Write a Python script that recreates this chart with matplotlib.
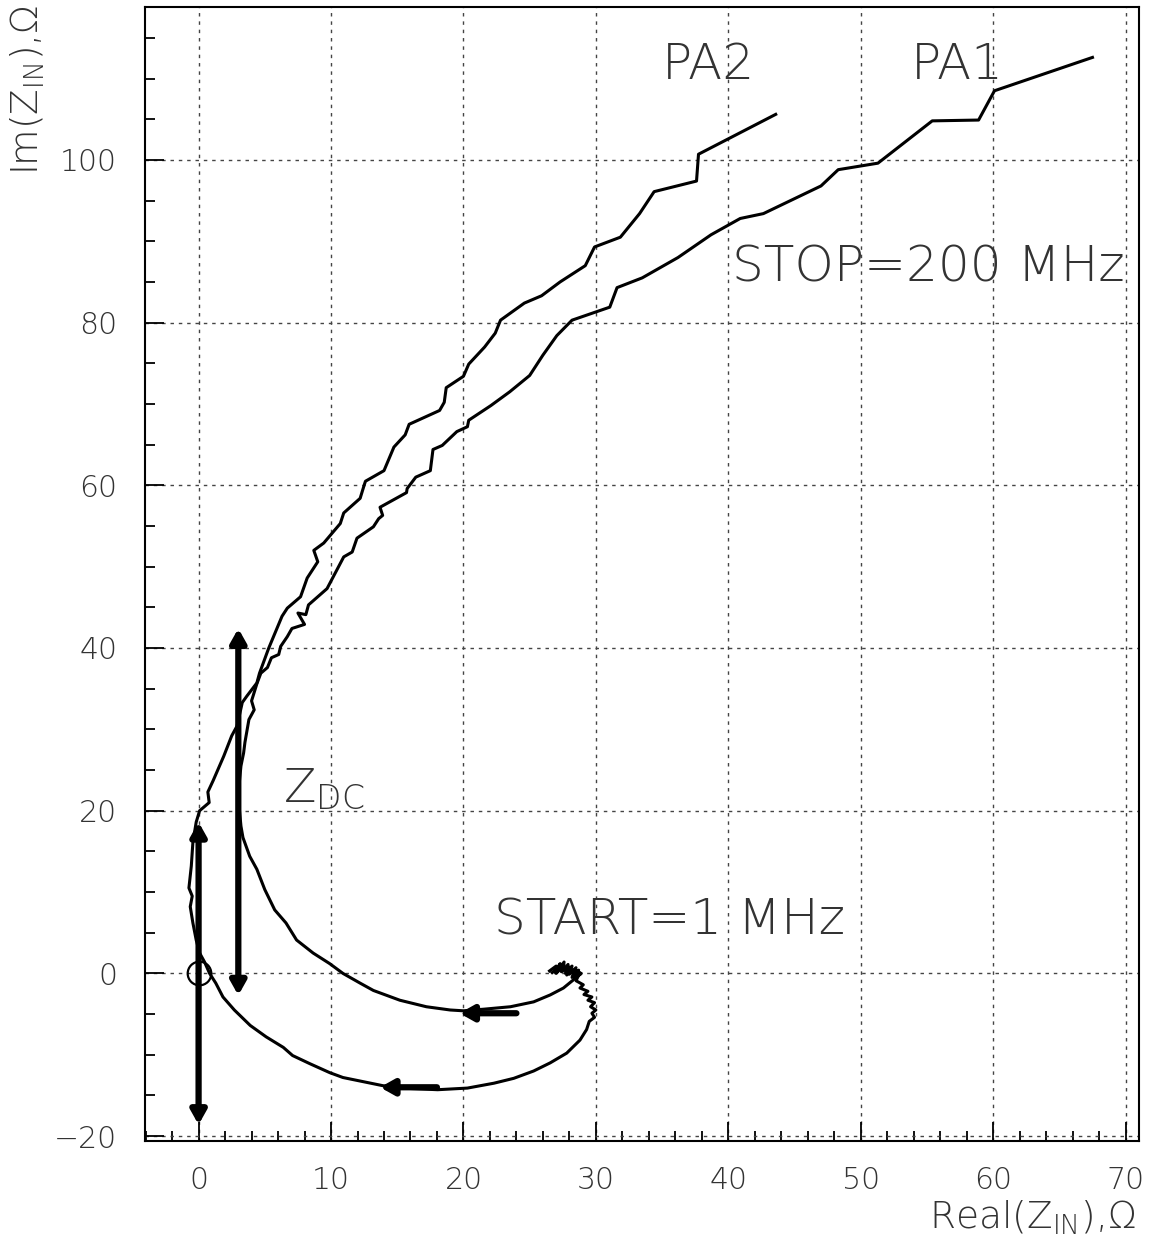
import numpy as np
import matplotlib.pyplot as plt
from matplotlib.ticker import MultipleLocator

# input impedance of the two preamps, swept 1 MHz -> 200 MHz

# PA1 : inner loop
pa1_re = [26.5, 27.0, 26.9, 27.3, 27.2, 27.6, 27.5, 27.9, 27.7, 28.2, 28.0, 28.5,
          28.3, 28.7, 28.4, 28.9, 28.3,
          27.55, 26.55, 25.3, 23.55, 21.55, 20.0, 19.0, 17.2, 15.2, 13.2, 12.2,
          10.9, 9.9, 8.65, 7.4, 6.6, 5.75, 5.0, 4.4, 3.86, 3.35, 3.2, 3.1, 3.0,
          3.1, 3.2, 3.4, 3.5, 3.8, 4.2, 4.0, 4.4, 4.7, 5.2, 5.5, 6.05, 6.2, 6.7,
          7.05, 8.0, 7.5, 8.1, 8.3, 9.7, 10.96, 11.6, 11.96, 13.2, 13.6, 13.9,
          13.7, 15.7, 15.75, 16.4, 17.5, 17.7, 18.4, 19.5, 20.3, 20.4, 22.07,
          23.5, 25.0, 26.0, 27.05, 28.2, 31.05, 31.6, 33.5, 36.2, 38.7, 40.9,
          42.65, 47.0, 48.3, 51.3, 55.4, 58.9, 60.1, 67.5]
pa1_im = [0.3, 0.9, 0.2, 1.2, 0.4, 1.4, 0.3, 1.1, 0.0, 0.9, -0.1, 0.7,
          -0.3, 0.4, -0.5, 0.0, -0.8,
          -1.8, -2.65, -3.5, -4.1, -4.4, -4.6, -4.5, -4.1, -3.3, -2.1, -1.2,
          0.0, 1.2, 2.5, 4.1, 6.2, 7.8, 10.3, 12.8, 14.4, 16.7, 18.1, 19.8, 21.9,
          23.9, 25.5, 27.1, 28.4, 31.2, 32.4, 33.5, 35.6, 36.9, 37.6, 38.8, 39.2, 40.2, 41.4,
          42.4, 42.9, 44.3, 44.1, 45.3, 47.3, 51.2, 51.8, 53.5, 54.9, 55.9, 56.3,
          57.3, 59.1, 59.6, 61.0, 61.8, 64.4, 64.9, 66.6, 67.2, 68.0, 69.8,
          71.5, 73.5, 76.0, 78.4, 80.3, 81.9, 84.3, 85.5, 88.0, 90.8, 92.8,
          93.4, 96.8, 98.8, 99.6, 104.8, 104.9, 108.5, 112.6]

# PA2 : outer loop
pa2_re = [26.7, 27.2, 27.0, 27.6, 27.4, 28.0, 27.8, 28.4, 28.2, 28.8, 28.5, 29.05,
          28.8, 29.4, 29.1, 29.7, 29.4, 29.9, 29.6, 30.0, 29.7, 29.9, 29.5,
          29.3, 28.8, 27.8, 26.55, 25.3,
          23.8, 22.3, 20.3, 18.05, 15.3, 13.9, 12.7, 10.9, 9.9, 8.4, 7.1, 6.4,
          5.1, 3.9, 2.7, 1.84, 1.3, 0.83, 0.45, 0.08, -0.18, -0.43, -0.63, -0.48,
          -0.73, -0.55, -0.43, -0.18, 0.08, 0.8, 0.7, 1.1, 1.9, 2.5, 2.9, 3.3,
          3.65, 4.4, 4.6, 5.3, 6.3, 6.7, 7.7, 8.2, 9.0, 8.7, 9.45, 10.7, 10.96,
          12.2, 12.5, 12.6, 14.0, 14.75, 15.6, 15.9, 18.2, 18.55, 18.7, 20.0,
          20.4, 21.6, 22.4, 22.8, 24.6, 25.9, 27.3, 29.2, 29.9, 31.85, 33.3,
          34.4, 37.6, 37.75, 43.58]
pa2_im = [0.1, 0.8, 0.0, 1.0, 0.2, 0.8, -0.2, 0.5, -0.5, 0.1, -0.9, -1.4,
          -1.8, -2.2, -2.6, -2.9, -3.3, -3.6, -4.1, -4.5, -4.9, -5.4, -5.9,
          -6.9, -8.2, -9.8, -11.0, -12.0,
          -12.9, -13.5, -14.1, -14.3, -14.1, -13.8, -13.4, -12.8, -12.2, -11.1,
          -10.1, -9.1, -7.8, -6.4, -4.5, -2.9, -1.2, 0.0, 1.4, 2.5, 4.1, 6.2, 8.2,
          9.5, 10.5, 13.2, 16.1, 18.6, 20.0, 21.0, 22.3, 23.7, 26.7, 29.2, 30.4,
          33.3, 34.1, 35.7, 36.9, 40.0, 43.9, 44.9, 46.3, 48.6, 50.6, 52.0, 52.9,
          55.3, 56.6, 58.4, 60.0, 60.5, 61.8, 64.7, 66.2, 67.5, 69.2, 70.2, 72.0,
          73.4, 74.9, 77.0, 78.7, 80.3, 82.4, 83.3, 85.0, 87.0, 89.3, 90.5, 93.4,
          96.1, 97.4, 100.7, 105.6]

# arrows: (x_start, y_start, x_end, y_end)
double_arrows = [(0.0, -18.6, 0.0, 18.6), (3.0, -2.7, 3.0, 42.4)]
left_arrows = [(24.0, -4.9, 19.7, -4.9), (18.0, -14.0, 13.7, -14.0)]

plt.rcParams['font.family'] = 'DejaVu Sans'
plt.rcParams['font.weight'] = 'light'
plt.rcParams['mathtext.fontset'] = 'custom'
plt.rcParams['mathtext.rm'] = 'DejaVu Sans:light'
plt.rcParams['mathtext.default'] = 'rm'
tc = '#333333'

fig = plt.figure(figsize=(11.55, 12.46), dpi=100)
ax = fig.add_axes([0.1255, 0.0843, 0.8605, 0.9101])

ax.plot(pa1_re, pa1_im, color='black', lw=2.2)
ax.plot(pa2_re, pa2_im, color='black', lw=2.2)
ax.plot([0], [0], 'o', ms=17, mfc='none', mec='black', mew=1.6)

for x0, y0, x1, y1 in double_arrows:
    ax.annotate('', xy=(x1, y1), xytext=(x0, y0),
                arrowprops=dict(arrowstyle='<|-|>,head_length=0.8,head_width=0.45',
                                lw=4.5, color='black', shrinkA=0, shrinkB=0))
for x0, y0, x1, y1 in left_arrows:
    ax.annotate('', xy=(x1, y1), xytext=(x0, y0),
                arrowprops=dict(arrowstyle='-|>,head_length=0.8,head_width=0.45',
                                lw=4.5, color='black', shrinkA=0, shrinkB=0))

ax.set_xlim(-4.05, 71.0)
ax.set_ylim(-20.6, 118.8)

ax.xaxis.set_major_locator(MultipleLocator(10))
ax.xaxis.set_minor_locator(MultipleLocator(2))
ax.yaxis.set_major_locator(MultipleLocator(20))
ax.yaxis.set_minor_locator(MultipleLocator(5))
ax.tick_params(which='both', direction='in', top=False, right=False,
               width=1.3, colors='black', labelcolor=tc, labelsize=21.5)
ax.tick_params(which='major', length=14)
ax.tick_params(which='minor', length=7)
ax.tick_params(axis='y', pad=20)
ax.tick_params(axis='x', pad=18)
ax.grid(True, which='major', color='#444444', lw=1.0, ls=(0, (2.5, 3.5)))
for s in ax.spines.values():
    s.set_linewidth(1.5)

txt = dict(color=tc, fontsize=36)
ax.text(38.5, 110.0, 'PA2', ha='center', va='baseline', **txt)
ax.text(57.3, 110.0, 'PA1', ha='center', va='baseline', **txt)
ax.text(40.3, 85.0, 'STOP=200 MHz', ha='left', va='baseline', **txt)
ax.text(22.3, 4.8, 'START=1 MHz', ha='left', va='baseline', **txt)
ax.text(6.4, 21.1, r'Z$_{\mathrm{DC}}$', ha='left', va='baseline', color=tc, fontsize=34)

fig.text(0.983, 0.0135, r'Real(Z$_{\mathrm{IN}}$),Ω', ha='right', va='baseline',
         color=tc, fontsize=27)
fig.text(0.024, 0.996, r'Im(Z$_{\mathrm{IN}}$),Ω', ha='center', va='top',
         rotation=90, color=tc, fontsize=27)

fig.savefig('out.png', dpi=100)
